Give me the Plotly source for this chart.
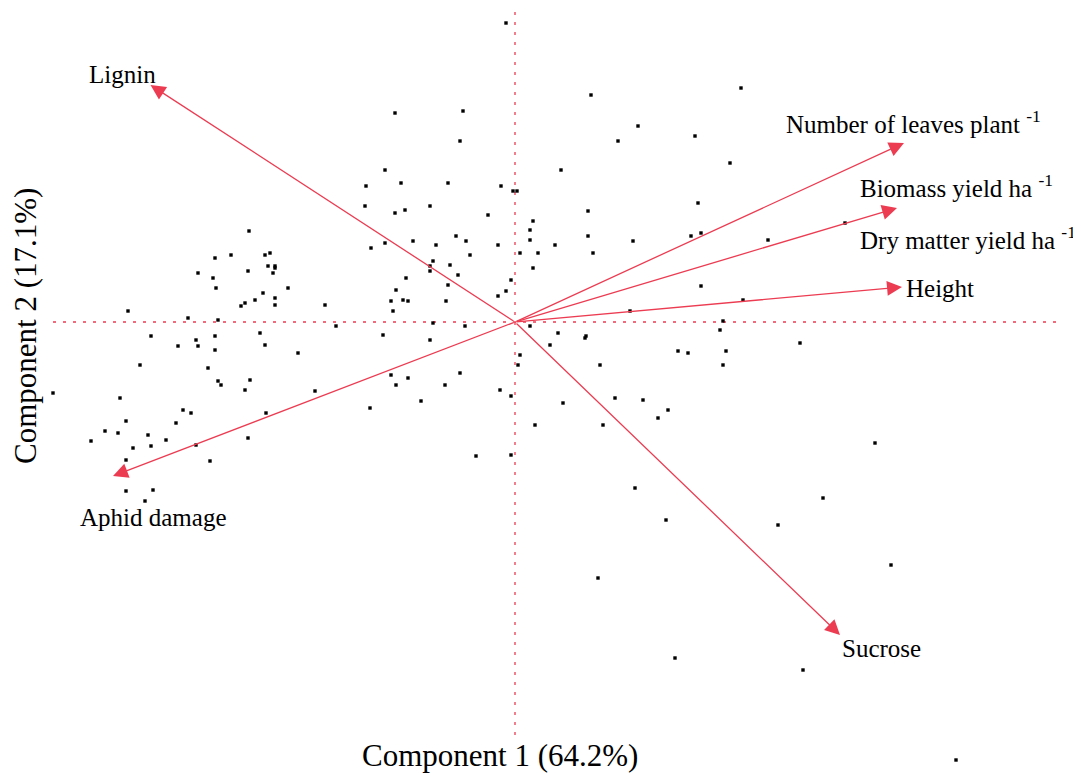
import plotly.graph_objects as go

# Sample scores (Component 1, Component 2)
pc1 = [-2.66, -3.00, -2.84, -2.50, -2.45, -2.47, -2.40, -2.40, -3.17, -2.67,
       -2.42, -3.02, -2.99, -2.27, -2.52, -2.60, -2.40, -2.40, -2.70, -2.74,
       -3.87, -3.27, -2.97, -3.64, -3.00, -3.19, -2.55, -3.37, -3.17, -2.50,
       -3.00, -2.17, -3.75, -3.07, -2.97, -2.94, -2.65, -2.70, -4.62, -3.95,
       -3.32, -3.24, -2.49, -3.89, -3.39, -4.10, -3.97, -3.67, -4.24, -3.49,
       -3.82, -3.64, -2.67, -3.19, -3.89, -3.05, -3.89, -3.62, -3.70,
       -1.20, -0.52, -0.55, -1.30, -1.49, -1.14, -0.67, -0.14, -0.02, 0.02,
       -1.50, -1.20, -1.10, -0.85, -0.27, 0.18, 0.15, 0.15, -0.59, -0.49,
       -1.02, -1.30, -1.44, -0.79, -0.17, -0.45, 0.05, 0.23, -0.82, -0.65,
       -0.85, -0.85, -0.57, 0.18, -1.09, -0.04, -0.67, -1.19, -0.09, -0.17,
       -1.90, -1.24, -1.12, -1.07, -0.69, -1.22, -1.79, -0.82, -0.50, 0.15,
       -1.32, -0.85, 0.05, 0.03, -1.24, -1.07, -0.55, -1.19, -0.70, -2.00,
       -0.15, -0.04, -0.94, -1.45, 0.20, -0.39, -0.04,
       0.76, 2.26, 1.23, 1.03, 1.80, 0.46, 2.15, 1.83, 0.73, 0.40,
       0.73, 1.18, 1.76, 1.86, 2.53, 0.78, 1.86,
       2.28, 1.15, 2.08, 0.43, 0.70, 0.71, 0.35, 2.05, 2.85, 1.63,
       1.73, 2.11, 0.85, 2.08, 1.00, 1.28, 0.48, 1.53, 1.43, 0.88,
       3.60, 1.20, 3.08, 1.51, 2.63, 3.76, 0.83, 1.60, 2.88, 4.41,
       -0.09, 3.30]
pc2 = [0.91, 0.64, 0.67, 0.67, 0.69, 0.56, 0.56, 0.54, 0.49, 0.51,
       0.49, 0.44, 0.34, 0.34, 0.29, 0.22, 0.24, 0.17, 0.19, 0.16,
       0.11, 0.04, 0.02, -0.14, -0.14, -0.18, -0.11, -0.24, -0.24, -0.23,
       -0.28, -0.31, -0.43, -0.46, -0.59, -0.63, -0.58, -0.68, -0.71, -0.76,
       -0.88, -0.91, -0.91, -0.99, -1.01, -1.09, -1.11, -1.13, -1.19, -1.18,
       -1.26, -1.24, -1.16, -1.23, -1.38, -1.39, -1.69, -1.68, -1.79,
       2.09, 2.11, 1.81, 1.52, 1.36, 1.39, 1.39, 1.36, 1.31, 1.31,
       1.16, 1.09, 1.12, 1.16, 1.07, 1.01, 0.92, 0.82, 0.86, 0.81,
       0.81, 0.79, 0.74, 0.77, 0.77, 0.67, 0.69, 0.69, 0.61, 0.57,
       0.56, 0.51, 0.47, 0.54, 0.44, 0.42, 0.37, 0.32, 0.31, 0.26,
       0.17, 0.21, 0.22, 0.21, 0.21, 0.11, -0.04, -0.01, -0.04, -0.04,
       -0.13, -0.18, -0.33, -0.43, -0.53, -0.56, -0.51, -0.63, -0.63, -0.69,
       -0.68, -0.74, -0.79, -0.86, -1.03, -1.34, -1.33,
       2.27, 2.34, 1.96, 1.81, 1.86, 1.52, 1.59, 1.19, 1.11, 0.77,
       0.86, 0.81, 0.86, 0.89, 0.82, 0.69, 0.36,
       0.22, 0.11, 0.01, -0.11, -0.16, -0.14, -0.23, -0.08, -0.21, -0.29,
       -0.31, -0.29, -0.43, -0.43, -0.76, -0.78, -0.81, -0.88, -0.96, -1.03,
       -1.21, -1.66, -1.76, -1.98, -2.03, -2.43, -2.56, -3.36, -3.48, -4.38,
       2.99, 0.99]

# Variable loadings (arrow tips)
var_names = ["Lignin", "Number of leaves plant <sup>-1</sup>",
             "Biomass yield ha <sup>-1</sup>", "Height", "Sucrose", "Aphid damage"]
load_x = [-3.645, 3.89, 3.82, 3.87, 3.25, -4.02]
load_y = [2.37, 1.79, 1.14, 0.35, -3.13, -1.54]

# Label positions (left edge, vertical centre)
label_text = ["Lignin", "Number of leaves plant <sup>-1</sup>",
              "Biomass yield ha <sup>-1</sup>", "Dry matter yield ha <sup>-1</sup>",
              "Height", "Sucrose", "Aphid damage"]
label_x = [-4.28, 2.69, 3.43, 3.43, 3.89, 3.25, -4.37]
label_y = [2.48, 2.00, 1.36, 0.84, 0.34, -3.26, -1.95]

x_title = "Component 1 (64.2%)"
y_title = "Component 2 (17.1%)"

RED = "#ec3c52"
FONT = "Liberation Serif"

fig = go.Figure()

# dotted reference lines through the origin
fig.add_trace(go.Scatter(x=[0, 0], y=[3.10, -4.13], mode="lines",
                         line=dict(color=RED, width=1.3, dash="3px,7px"),
                         hoverinfo="skip", showlegend=False))
fig.add_trace(go.Scatter(x=[-4.62, 5.43], y=[0, 0], mode="lines",
                         line=dict(color=RED, width=1.3, dash="3px,7px"),
                         hoverinfo="skip", showlegend=False))

fig.add_trace(go.Scatter(x=pc1, y=pc2, mode="markers",
                         marker=dict(symbol="square", size=3.4, color="black",
                                     line=dict(width=0)),
                         showlegend=False))

annotations = []
for lx, ly in zip(load_x, load_y):
    annotations.append(dict(x=lx, y=ly, ax=0, ay=0, xref="x", yref="y",
                            axref="x", ayref="y", text="", showarrow=True,
                            arrowhead=2, arrowsize=2.3, arrowwidth=1.3,
                            arrowcolor=RED, standoff=0, startstandoff=0))
for t, lx, ly in zip(label_text, label_x, label_y):
    annotations.append(dict(x=lx, y=ly, xref="x", yref="y", text=t,
                            showarrow=False, xanchor="left", yanchor="middle",
                            font=dict(family=FONT, size=25, color="black")))
annotations.append(dict(x=-0.15, y=-4.33, xref="x", yref="y", text=x_title,
                        showarrow=False, xanchor="center", yanchor="middle",
                        font=dict(family=FONT, size=31, color="black")))
annotations.append(dict(x=-4.90, y=-0.04, xref="x", yref="y", text=y_title,
                        showarrow=False, xanchor="center", yanchor="middle",
                        textangle=-90,
                        font=dict(family=FONT, size=31, color="black")))

fig.update_layout(
    width=1073, height=765,
    margin=dict(l=0, r=0, t=0, b=0),
    paper_bgcolor="white", plot_bgcolor="white",
    xaxis=dict(range=[-5.07, 5.66], visible=False, fixedrange=True),
    yaxis=dict(range=[-4.51, 3.14], visible=False, fixedrange=True),
    annotations=annotations,
)

fig.write_html("out.html")
